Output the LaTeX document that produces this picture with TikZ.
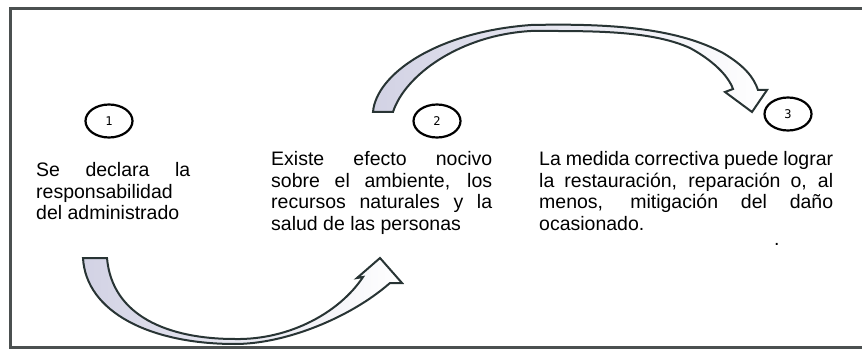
\documentclass[tikz,border=0pt]{standalone}
\usepackage{fontspec}
\setmainfont{Liberation Sans}
\newfontfamily\digitfont{DejaVu Sans Mono}
\usetikzlibrary{shapes.geometric}
\definecolor{flecha}{RGB}{210,210,228}
\definecolor{borde}{RGB}{40,52,52}
\definecolor{marco}{RGB}{75,80,80}
\hyphenpenalty=10000

\begin{document}
\begin{tikzpicture}[x=1pt, y=-1pt,
    paso/.style={ellipse, draw, line width=2.2pt, minimum width=47pt, minimum height=33pt, inner sep=0pt, font=\digitfont\fontsize{12}{12}\selectfont},
    texto/.style={anchor=base west, inner sep=0pt, align=justify, font=\fontsize{19.5}{21.5}\selectfont},
    curva/.style={draw=borde, line width=2pt, line join=miter, left color=flecha, right color=white}]

\useasboundingbox (0,0) rectangle (862,358);
\draw[marco, line width=3pt] (870,9) -- (10,9) -- (10,347) -- (870,347);

\node [paso] (uno) at (109,121) {1};
\node [paso] (dos) at (437,121) {2};
\node [paso] (tres) at (788,114) {3};

\node [texto, text width=154pt] (bloqueA) at (36,177) {Se declara la\linebreak responsabilidad\linebreak del administrado};
\node [texto, text width=221pt] (bloqueB) at (271,166) {Existe efecto nocivo\linebreak sobre el ambiente, los\linebreak recursos naturales y la\linebreak salud de las personas};
\node [texto, text width=294pt] (bloqueC) at (539,166) {La medida correctiva puede lograr\linebreak la restauración, reparación o, al\linebreak menos, mitigación del daño\linebreak ocasionado.};
\node [texto] (punto) at (774,245) {.};

\draw[curva] (83,258) .. controls (86,312) and (150,344) .. (235,344) .. controls (285,344) and (350,318) .. (390,283) -- (402,283) -- (380,258) -- (357,278) -- (363,277) .. controls (340,312) and (290,340) .. (235,339) .. controls (168,339) and (112,316) .. (107,258) -- cycle;
\draw[curva] (373,112) .. controls (376,75) and (435,32) .. (531,25) .. controls (620,23) and (680,30) .. (723,53) .. controls (745,66) and (754,78) .. (758,90) -- (767,90) -- (752,112) -- (725,92) -- (733,89) .. controls (728,75) and (712,60) .. (690,48) .. controls (650,30) and (590,31) .. (531,31) .. controls (460,35) and (405,75) .. (393,112) -- cycle;
\end{tikzpicture}
\end{document}
